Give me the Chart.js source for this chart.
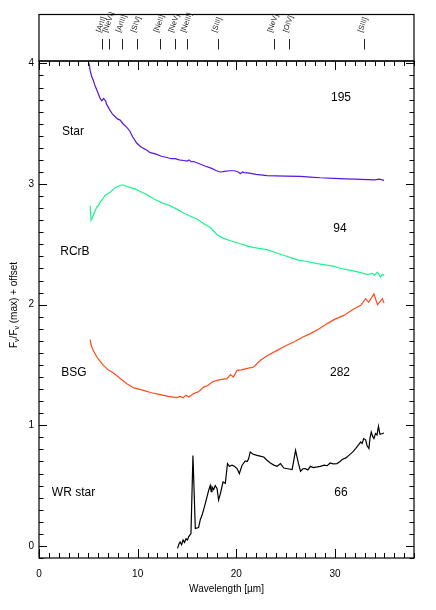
<!DOCTYPE html>
<html>
<head>
<meta charset="utf-8">
<script src="https://cdn.jsdelivr.net/npm/chart.js@4/dist/chart.umd.min.js"></script>
<style>
  html,body{margin:0;padding:0;background:#fff;}
  canvas{display:block;}
</style>
</head>
<body>
<canvas id="c" width="436" height="610"></canvas>
<script>
// ---------- DATA ----------
const xTickValues = [0, 10, 20, 30];
const yTickValues = [0, 1, 2, 3, 4];

const lineNames = ["[ArII]", "[NeVI]", "[ArIII]", "[SIV]", "[NeII]", "[NeV]", "[NeIII]", "[SIII]", "[NeV]", "[OIV]", "[SIII]"];
const lineWavelengths = [6.43, 7.11, 8.45, 9.97, 12.28, 13.77, 15.02, 18.17, 23.79, 25.38, 32.96];

const seriesNames = ["Star", "RCrB", "BSG", "WR star"];
const seriesNumbers = ["195", "94", "282", "66"];

const starWl = [5.08,5.18,5.35,5.5,5.7,5.86,6.05,6.2,6.36,6.45,6.55,6.63,6.75,6.85,7.0,7.2,7.45,7.7,7.95,8.22,8.5,8.9,9.2,9.5,9.9,10.3,10.93,11.27,11.8,12.4,12.96,13.4,13.8,14.2,14.65,15.0,15.2,15.4,15.67,16.2,16.8,17.5,18.0,18.38,18.8,19.3,19.8,20.2,20.4,20.6,20.8,21.3,22.0,23.1,24.0,25.0,26.5,27.5,28.5,29.9,31.0,32.0,33.3,34.0,34.5,34.96];
const starFlux = [4.00,3.94,3.89,3.86,3.81,3.78,3.74,3.71,3.69,3.70,3.71,3.70,3.69,3.66,3.64,3.61,3.58,3.56,3.54,3.53,3.50,3.47,3.44,3.39,3.34,3.31,3.28,3.26,3.25,3.23,3.22,3.21,3.21,3.20,3.195,3.19,3.20,3.185,3.187,3.17,3.15,3.13,3.11,3.10,3.105,3.11,3.11,3.10,3.085,3.10,3.095,3.09,3.08,3.07,3.068,3.066,3.063,3.058,3.052,3.047,3.043,3.040,3.036,3.035,3.04,3.03];

const rcrbWl = [5.18,5.28,5.4,5.5,5.7,5.86,6.0,6.19,6.4,6.7,6.95,7.2,7.45,7.7,8.0,8.4,8.6,8.9,9.3,9.75,10.2,10.76,11.27,11.95,12.6,13.3,14.0,14.65,15.3,16.0,16.7,17.36,18.04,18.7,19.4,20.4,21.0,21.7,22.4,23.1,24.0,24.8,25.5,26.3,27.0,27.6,28.2,29.0,29.8,30.6,31.6,32.4,33.27,33.8,34.0,34.3,34.6,34.8,34.96];
const rcrbFlux = [2.82,2.70,2.72,2.74,2.78,2.81,2.82,2.85,2.87,2.906,2.92,2.93,2.95,2.97,2.98,2.994,2.99,2.98,2.97,2.96,2.94,2.92,2.895,2.864,2.84,2.82,2.79,2.76,2.735,2.71,2.67,2.64,2.58,2.55,2.53,2.505,2.49,2.475,2.465,2.456,2.43,2.41,2.39,2.37,2.36,2.35,2.34,2.33,2.32,2.30,2.284,2.27,2.25,2.26,2.245,2.27,2.23,2.25,2.243];

const bsgWl = [5.18,5.28,5.5,5.86,6.2,6.53,7.0,7.55,8.2,8.9,9.6,10.59,11.4,12.28,13.1,13.98,14.3,14.6,14.9,15.2,15.67,16.2,16.68,17.1,17.6,18.04,18.5,19.05,19.4,19.7,20.07,20.5,21.0,21.76,22.44,23.2,24.13,25.0,25.82,26.7,27.5,28.4,29.2,30.0,30.9,31.8,32.6,33.1,33.4,33.94,34.3,34.8,34.96];
const bsgFlux = [1.71,1.663,1.62,1.566,1.53,1.497,1.46,1.433,1.39,1.345,1.31,1.29,1.27,1.254,1.24,1.23,1.24,1.228,1.25,1.235,1.263,1.28,1.317,1.33,1.36,1.373,1.38,1.387,1.42,1.40,1.456,1.46,1.47,1.483,1.539,1.58,1.621,1.66,1.69,1.73,1.76,1.80,1.843,1.88,1.911,1.96,1.994,2.05,2.02,2.09,2.0,2.05,2.013];

const wrWl = [14.04,14.2,14.3,14.45,14.6,14.75,14.9,15.05,15.16,15.4,15.6,15.84,16.17,16.35,16.52,16.85,17.19,17.35,17.45,17.53,17.7,17.85,18.04,18.2,18.38,18.65,18.88,19.1,19.3,19.56,19.8,20.07,20.3,20.58,20.9,21.1,21.25,21.4,21.7,22.1,22.4,22.77,23.1,23.45,23.8,24.13,24.47,24.8,25.2,25.65,26.0,26.3,26.5,26.75,27.0,27.25,27.5,27.8,28.2,28.5,28.9,29.2,29.5,29.8,30.2,30.5,30.73,31.1,31.4,31.8,32.08,32.4,32.6,32.75,32.9,33.1,33.25,33.43,33.55,33.67,33.8,33.94,34.1,34.25,34.4,34.55,34.75,34.96];
const wrFlux = [-0.02,0.02,0.033,0.01,0.05,0.03,0.06,0.05,0.075,0.103,0.75,0.144,0.152,0.22,0.254,0.351,0.46,0.50,0.45,0.49,0.467,0.50,0.476,0.38,0.434,0.53,0.52,0.683,0.66,0.669,0.66,0.641,0.6,0.669,0.704,0.70,0.724,0.779,0.76,0.751,0.745,0.737,0.71,0.688,0.67,0.66,0.683,0.646,0.64,0.633,0.793,0.68,0.619,0.64,0.641,0.63,0.66,0.65,0.655,0.66,0.669,0.665,0.688,0.68,0.683,0.70,0.716,0.73,0.751,0.78,0.807,0.84,0.862,0.85,0.89,0.88,0.83,0.807,0.90,0.944,0.91,0.89,0.931,0.92,0.992,0.925,0.93,0.936];

// ---------- CHART ----------
const FONT = "'Liberation Sans', Arial, Helvetica, sans-serif";
const toPts = (xs, ys) => xs.map((x, i) => ({x: x, y: ys[i]}));
const colors = ['#5a16dc', '#18f58a', '#ff4a1c', '#000000'];
const allSeries = [[starWl, starFlux], [rcrbWl, rcrbFlux], [bsgWl, bsgFlux], [wrWl, wrFlux]];

// annotation anchors in data coordinates (name at left, number at right)
const nameAnchors = [[2.33, 3.43], [2.15, 2.44], [2.25, 1.44], [1.3, 0.44]];
const numberAnchors = [[30.6, 3.72], [30.5, 2.63], [30.5, 1.44], [30.6, 0.44]];

const framePlugin = {
  id: 'frame',
  afterDraw(chart) {
    const ctx = chart.ctx;
    const a = chart.chartArea;
    const xs = chart.scales.x, ys = chart.scales.y;
    ctx.save();
    ctx.strokeStyle = '#000';
    ctx.lineWidth = 1.2;
    // main box
    ctx.strokeRect(a.left, a.top, a.right - a.left, a.bottom - a.top);
    // top panel box
    const panelTop = 14.5;
    ctx.strokeRect(a.left, panelTop, a.right - a.left, a.top - panelTop);

    // ticks (inward)
    ctx.lineWidth = 1;
    ctx.beginPath();
    for (let v = 0; v <= 38; v += 1) {
      const px = Math.round(xs.getPixelForValue(v)) + 0.5;
      const len = (v % 10 === 0) ? 9 : 5;
      ctx.moveTo(px, a.bottom); ctx.lineTo(px, a.bottom - len);
      ctx.moveTo(px, a.top); ctx.lineTo(px, a.top + len);
    }
    for (let k = -1; k <= 40; k += 1) {
      const v = k / 10;
      const py = Math.round(ys.getPixelForValue(v)) + 0.5;
      const len = (k % 10 === 0) ? 8 : 4.5;
      ctx.moveTo(a.left, py); ctx.lineTo(a.left + len, py);
      ctx.moveTo(a.right, py); ctx.lineTo(a.right - len, py);
    }
    ctx.stroke();

    // line markers in top panel
    ctx.strokeStyle = '#222';
    ctx.beginPath();
    lineWavelengths.forEach(w => {
      const px = Math.round(xs.getPixelForValue(w)) + 0.5;
      ctx.moveTo(px, 39); ctx.lineTo(px, 49.5);
    });
    ctx.stroke();
    ctx.fillStyle = '#222';
    ctx.font = '7.5px ' + FONT;
    ctx.textAlign = 'left';
    ctx.textBaseline = 'middle';
    lineWavelengths.forEach((w, i) => {
      const px = xs.getPixelForValue(w);
      ctx.save();
      ctx.translate(px - 4, 32);
      ctx.rotate(-70 * Math.PI / 180);
      ctx.fillText(lineNames[i], 0, 0);
      ctx.restore();
    });

    // series labels
    ctx.fillStyle = '#000';
    ctx.font = '12px ' + FONT;
    ctx.textBaseline = 'middle';
    seriesNames.forEach((n, i) => {
      ctx.textAlign = 'left';
      ctx.fillText(n, xs.getPixelForValue(nameAnchors[i][0]), ys.getPixelForValue(nameAnchors[i][1]));
      ctx.textAlign = 'center';
      ctx.fillText(seriesNumbers[i], xs.getPixelForValue(numberAnchors[i][0]), ys.getPixelForValue(numberAnchors[i][1]));
    });

    // x title
    ctx.font = '10px ' + FONT;
    ctx.textAlign = 'center';
    ctx.fillText('Wavelength [\u00b5m]', (a.left + a.right) / 2, 589);

    // y title with subscripts
    const parts = [['F', 0], ['\u03bd', 1], ['/F', 0], ['\u03bd', 1], [' (max) + offset', 0]];
    const big = '10px ' + FONT, small = '7px ' + FONT;
    let total = 0;
    parts.forEach(p => { ctx.font = p[1] ? small : big; total += ctx.measureText(p[0]).width; });
    ctx.save();
    ctx.translate(14, 305);
    ctx.rotate(-Math.PI / 2);
    ctx.textAlign = 'left';
    let cx = -total / 2;
    parts.forEach(p => {
      ctx.font = p[1] ? small : big;
      ctx.fillText(p[0], cx, p[1] ? 3 : 0);
      cx += ctx.measureText(p[0]).width;
    });
    ctx.restore();
    ctx.restore();
  }
};

new Chart(document.getElementById('c'), {
  type: 'line',
  data: {
    datasets: allSeries.map((s, i) => ({
      label: seriesNames[i],
      data: toPts(s[0], s[1]),
      borderColor: colors[i],
      borderWidth: 1.2,
      pointRadius: 0,
      tension: 0,
      fill: false
    }))
  },
  options: {
    responsive: false,
    animation: false,
    devicePixelRatio: 1,
    layout: { padding: { top: 61, left: 0, right: 22, bottom: 0 } },
    plugins: { legend: { display: false }, tooltip: { enabled: false } },
    scales: {
      x: {
        type: 'linear', min: 0, max: 38,
        afterBuildTicks: s => { s.ticks = xTickValues.map(v => ({ value: v })); },
        afterFit: s => { s.height = 52; },
        grid: { display: false, drawTicks: false },
        border: { display: false },
        ticks: { padding: 10, color: '#000', maxRotation: 0, font: { size: 10, family: FONT } }
      },
      y: {
        type: 'linear', min: -0.1, max: 4.02,
        afterBuildTicks: s => { s.ticks = yTickValues.map(v => ({ value: v })); },
        afterFit: s => { s.width = 39; },
        grid: { display: false, drawTicks: false },
        border: { display: false },
        ticks: { padding: 5, color: '#000', font: { size: 10, family: FONT } }
      }
    }
  },
  plugins: [framePlugin]
});
</script>
</body>
</html>
